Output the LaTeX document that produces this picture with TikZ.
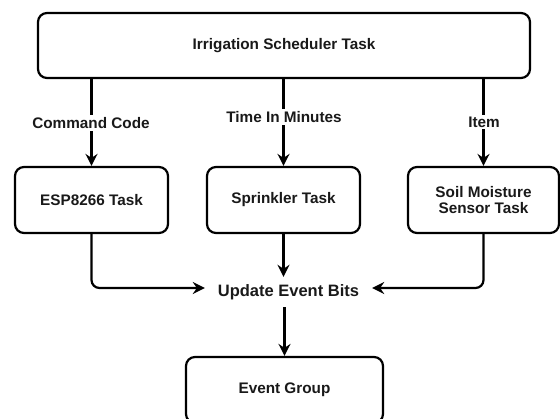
\documentclass[tikz,border=0pt]{standalone}
\usepackage{fontspec}
\setmainfont{Liberation Sans}
\usetikzlibrary{arrows.meta,calc}
\tikzset{
  taskbox/.style={draw=black, line width=2.2pt, rounded corners=9pt, fill=white,
    align=center, font=\bfseries\fontsize{15.3}{16}\selectfont, text=black!90, inner sep=0pt},
  lbl/.style={fill=white, font=\bfseries\fontsize{15.3}{16}\selectfont, text=black!90, inner sep=2pt},
  conn/.style={line width=2.2pt, -{Stealth[length=12pt,width=12pt,inset=4pt]}, rounded corners=8pt},
}
\begin{document}
\begin{tikzpicture}[x=1pt,y=-1pt]
\useasboundingbox (0,0) rectangle (560,418);
\node[taskbox, minimum width=492pt, minimum height=65pt] (top) at (284,45.5) {Irrigation Scheduler Task};
\node[taskbox, minimum width=153pt, minimum height=66pt] (esp) at (91.5,200) {ESP8266 Task};
\node[taskbox, minimum width=153pt, minimum height=66pt] (spr) at (283.5,200) {Sprinkler Task};
\node[taskbox, minimum width=151pt, minimum height=66pt] (soil) at (483.5,200) {Soil Moisture\\Sensor Task};
\node[lbl, minimum width=167pt, minimum height=30pt, inner sep=0pt, fill=none,
  font=\bfseries\fontsize{16.5}{18}\selectfont] (upd) at (288.5,292) {Update Event Bits};
\node[taskbox, minimum width=197pt, minimum height=66pt] (ev) at (284.5,390) {Event Group};

\draw[conn] (top.south -| esp) -- (esp.north);
\draw[conn] (top.south -| spr) -- (spr.north);
\draw[conn] (top.south -| soil) -- (soil.north);
\node[lbl] (l1) at (91,123) {Command Code};
\node[lbl] (l2) at (284,117) {Time In Minutes};
\node[lbl] (l3) at (484,122) {Item};

\draw[conn] (esp.south) |- ($(upd.west)+(0,-4)$);
\draw[conn] (soil.south) |- ($(upd.east)+(0,-4)$);
\draw[conn] (spr.south) -- (spr.south |- upd.north);
\draw[conn] (upd.south -| ev.north) -- (ev.north);
\end{tikzpicture}
\end{document}
